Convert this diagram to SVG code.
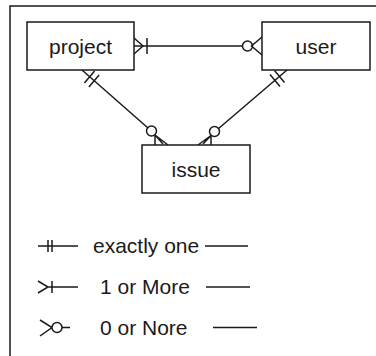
<svg xmlns="http://www.w3.org/2000/svg" width="376" height="356" viewBox="0 0 376 356">
<style>
.box{fill:#fff;stroke:#1a1a1a;stroke-width:1.5}
.ln{fill:none;stroke:#1a1a1a;stroke-width:1.5}
.circ{fill:#fff;stroke:#1a1a1a;stroke-width:1.5}
.t{font-family:"Liberation Sans",Arial,sans-serif;font-size:21px;fill:#1a1a1a;text-anchor:middle}
.lg{font-family:"Liberation Sans",Arial,sans-serif;font-size:21px;fill:#1a1a1a}
</style>
<rect width="376" height="356" fill="#fff"/>
<path class="ln" d="M10,356 V6 H376"/>
<g id="connectors">
  <!-- project - user -->
  <path class="ln" d="M134,46 H242.5"/>
  <path class="ln" d="M134,38 L143,46 L134,54 M147,38 V54"/>
  <circle class="circ" cx="247.5" cy="46" r="5"/>
  <path class="ln" d="M262,37 L251.5,46 L262,55"/>
  <!-- project - issue -->
  <path class="ln" d="M82,70 L148,128"/>
  <path class="ln" d="M84.4,83 L94.6,71 M88.9,87 L99.1,75"/>
  <circle class="circ" cx="151.5" cy="131" r="5"/>
  <path class="ln" d="M155,135 L155,145 M155,135 L163,144 M155,135 L168,145"/>
  <!-- user - issue -->
  <path class="ln" d="M287,70 L218,129"/>
  <path class="ln" d="M274.5,70.5 L284.5,82.5 M270,74.5 L280,86.5"/>
  <circle class="circ" cx="214.5" cy="131.5" r="5"/>
  <path class="ln" d="M211,135.5 L211,145 M211,135.5 L203,144 M211,135.5 L198,145"/>
</g>
<g id="project">
  <rect class="box" x="27" y="22" width="107" height="48"/>
  <text class="t" x="80.5" y="53.5">project</text>
</g>
<g id="user">
  <rect class="box" x="262" y="22" width="108" height="48"/>
  <text class="t" x="316" y="53.5">user</text>
</g>
<g id="issue">
  <rect class="box" x="142" y="145" width="108" height="48"/>
  <text class="t" x="196" y="177">issue</text>
</g>
<g id="legend">
  <path class="ln" d="M38,246 H78 M48,240 V252 M52,240 V252"/>
  <text class="lg" x="93" y="253">exactly one</text>
  <path class="ln" d="M205,246 H248"/>
  <path class="ln" d="M38,281 L48,287 L38,293 M48,287 H78 M52,281 V293"/>
  <text class="lg" x="100" y="294">1 or More</text>
  <path class="ln" d="M206,287 H250"/>
  <path class="ln" d="M40,320 L52,327.5 L40,336 M62,327.5 H70"/>
  <circle class="circ" cx="57" cy="327.5" r="5"/>
  <text class="lg" x="100" y="335">0 or Nore</text>
  <path class="ln" d="M213,327.5 H257"/>
</g>
</svg>
